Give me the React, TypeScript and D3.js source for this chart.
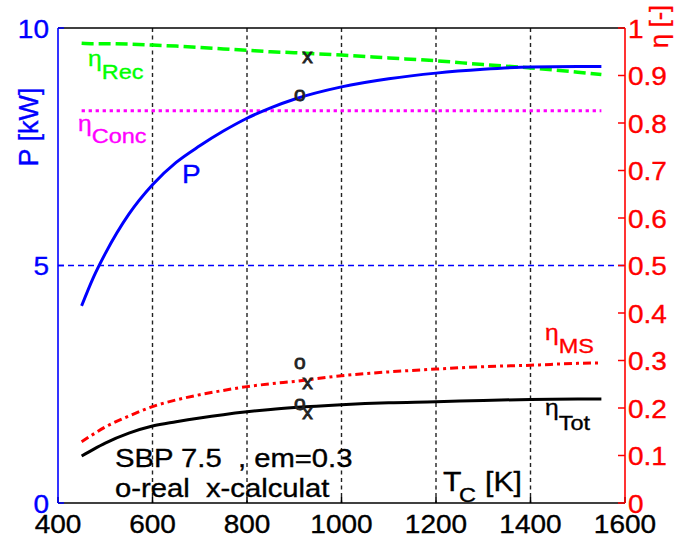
import React from "react";
import * as d3 from "d3";

const temps = [450, 475, 500, 550, 600, 650, 700, 750, 800, 850, 900, 1000, 1100, 1200, 1300, 1400, 1500, 1550];
const powerKW = [4.15, 4.75, 5.25, 6.08, 6.7, 7.17, 7.52, 7.83, 8.1, 8.32, 8.5, 8.76, 8.93, 9.05, 9.13, 9.18, 9.19, 9.19];
const etaRec = [0.968, 0.967, 0.967, 0.966, 0.964, 0.962, 0.959, 0.956, 0.953, 0.95, 0.948, 0.943, 0.937, 0.931, 0.923, 0.916, 0.907, 0.902];
const concTemps = [450, 1550];
const etaConc = [0.826, 0.826];
const etaMS = [0.129, 0.145, 0.16, 0.183, 0.203, 0.217, 0.228, 0.237, 0.245, 0.251, 0.256, 0.268, 0.276, 0.282, 0.287, 0.29, 0.294, 0.295];
const etaTot = [0.099, 0.113, 0.126, 0.147, 0.162, 0.171, 0.179, 0.186, 0.192, 0.197, 0.201, 0.207, 0.211, 0.213, 0.216, 0.218, 0.219, 0.219];

const markerT = [912, 928, 912, 928, 912, 928];
const markerVal = [0.862, 0.943, 0.297, 0.255, 0.211, 0.192];
const markerChar = ["o", "x", "o", "x", "o", "x"];

const xTicks = [400, 600, 800, 1000, 1200, 1400, 1600];
const gridT = [600, 800, 1000, 1200, 1400];
const pTicks = [0, 5, 10];
const etaTicks = [0, 0.1, 0.2, 0.3, 0.4, 0.5, 0.6, 0.7, 0.8, 0.9, 1];
const etaTickLabels = ["0", "0.1", "0.2", "0.3", "0.4", "0.5", "0.6", "0.7", "0.8", "0.9", "1"];

const W = 677, H = 545;
const L = 58, R = 625, T0 = 28, B = 503;
const FONT = "'Liberation Sans', Arial, Helvetica, sans-serif";
const SX = 1.12;

const x = d3.scaleLinear().domain([400, 1600]).range([L, R]);
const yP = d3.scaleLinear().domain([0, 10]).range([B, T0]);
const yE = d3.scaleLinear().domain([0, 1]).range([B, T0]);

function Txt({ x, y, size, fill = "#000", anchor = "start", sx = SX, children }: any) {
  return (
    <text
      transform={`translate(${x},${y}) scale(${sx},1)`}
      fontSize={size}
      fill={fill}
      stroke={fill}
      strokeWidth={0.35}
      textAnchor={anchor}
      fontFamily={FONT}
      style={{ whiteSpace: "pre" }}
    >
      {children}
    </text>
  );
}

function EtaLabel({ x, y, sub, fill, dy }: any) {
  return (
    <text transform={`translate(${x},${y}) scale(${SX},1)`} fill={fill} stroke={fill} strokeWidth={0.35} fontFamily={FONT}>
      <tspan fontSize={22}>η</tspan>
      <tspan fontSize={21} dy={dy}>{sub}</tspan>
    </text>
  );
}

export default function App() {
  const lineE = (vals: number[], ts: number[]) =>
    d3.line<number>().x((_, i) => x(ts[i])).y((v) => yE(v)).curve(d3.curveMonotoneX)(vals) as string;
  const lineP = d3.line<number>().x((_, i) => x(temps[i])).y((v) => yP(v)).curve(d3.curveMonotoneX)(powerKW) as string;

  return (
    <svg width={W} height={H} style={{ position: "absolute", left: 0, top: 0, background: "#fff" }}>
      <rect x={0} y={0} width={W} height={H} fill="#fff" />
      {/* grid */}
      {gridT.map((t) => (
        <line key={t} x1={x(t)} x2={x(t)} y1={T0} y2={B} stroke="#222" strokeWidth={1.4} strokeDasharray="4,3.5" />
      ))}
      <line x1={L} x2={R} y1={yP(5)} y2={yP(5)} stroke="#0000ff" strokeWidth={1.3} strokeDasharray="6,4" />

      {/* axes frame */}
      <line x1={L} x2={R} y1={T0} y2={T0} stroke="#000" strokeWidth={1.5} />
      <line x1={L} x2={R} y1={B} y2={B} stroke="#000" strokeWidth={1.5} />
      {xTicks.map((t) => (
        <line key={t} x1={x(t)} x2={x(t)} y1={B} y2={B - 6} stroke="#000" strokeWidth={1.5} />
      ))}
      <line x1={L} x2={L} y1={T0} y2={B} stroke="#0000ff" strokeWidth={1.6} />
      {pTicks.map((p) => (
        <line key={p} x1={L} x2={L + 6} y1={yP(p)} y2={yP(p)} stroke="#0000ff" strokeWidth={1.5} />
      ))}
      <line x1={R} x2={R} y1={T0} y2={B} stroke="#ff0000" strokeWidth={1.6} />
      {etaTicks.map((e) => (
        <line key={e} x1={R} x2={R - 7} y1={yE(e)} y2={yE(e)} stroke="#ff0000" strokeWidth={1.5} />
      ))}

      {/* series */}
      <path d={lineE(etaRec, temps)} fill="none" stroke="#00ff00" strokeWidth={3.5} strokeDasharray="12,5" />
      <path d={lineE(etaConc, concTemps)} fill="none" stroke="#ff00ff" strokeWidth={3} strokeDasharray="3.3,3.7" />
      <path d={lineP} fill="none" stroke="#0000ff" strokeWidth={3} />
      <path d={lineE(etaMS, temps)} fill="none" stroke="#ff0000" strokeWidth={3} strokeDasharray="8,4,3,4" />
      <path d={lineE(etaTot, temps)} fill="none" stroke="#000" strokeWidth={3} />

      {/* markers */}
      {markerT.map((t, i) => (
        <text
          key={i}
          x={x(t)}
          y={yE(markerVal[i])}
          fontSize={21}
          fontFamily={FONT}
          textAnchor="middle"
          dominantBaseline="central"
          fill="#222"
          stroke="#222"
          strokeWidth={0.8}
        >
          {markerChar[i]}
        </text>
      ))}

      {/* tick labels */}
      {xTicks.map((t) => (
        <Txt key={t} x={x(t)} y={533} size={25} anchor="middle">{String(t)}</Txt>
      ))}
      {pTicks.map((p) => (
        <Txt key={p} x={49} y={yP(p) + 9.5} size={25} anchor="end" fill="#0000ff">{String(p)}</Txt>
      ))}
      {etaTicks.map((e, i) => (
        <Txt key={e} x={628} y={yE(e) + 9.5} size={25} fill="#ff0000">{etaTickLabels[i]}</Txt>
      ))}

      {/* axis titles */}
      <text transform={`translate(38,127) rotate(-90)`} fontSize={27} fill="#0000ff" stroke="#0000ff" strokeWidth={0.35} fontFamily={FONT} textAnchor="middle">
        P [kW]
      </text>
      <text transform={`translate(668,5) rotate(-90)`} fontSize={25} fill="#ff0000" stroke="#ff0000" strokeWidth={0.35} fontFamily={FONT} textAnchor="end">
        η [-]
      </text>
      <Txt x={443} y={491} size={27}>T</Txt>
      <Txt x={459} y={502} size={21}>C</Txt>
      <Txt x={485} y={491} size={27}>[K]</Txt>

      {/* in-plot labels */}
      <EtaLabel x={88} y={66} sub="Rec" fill="#00ff00" dy={13} />
      <EtaLabel x={78} y={131} sub="Conc" fill="#ff00ff" dy={12} />
      <Txt x={182} y={183} size={25} fill="#0000ff">P</Txt>
      <EtaLabel x={545} y={340} sub="MS" fill="#ff0000" dy={13} />
      <EtaLabel x={545} y={415} sub="Tot" fill="#000" dy={15} />
      <Txt x={115} y={467} size={25} sx={1.17}>{"SBP 7.5  , em=0.3"}</Txt>
      <Txt x={115} y={497} size={25} sx={1.17}>{"o-real  x-calculat"}</Txt>
    </svg>
  );
}
